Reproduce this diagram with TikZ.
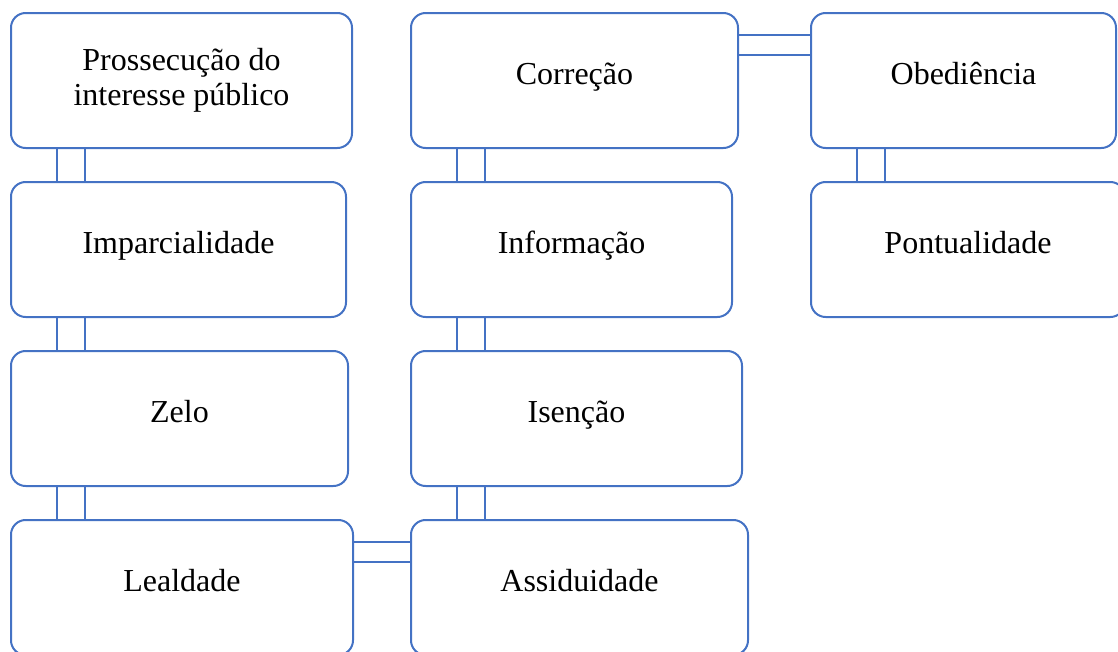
\documentclass[tikz,border=0pt]{standalone}
\usepackage{fontspec}
\setmainfont{Liberation Serif}
\usepackage{tikz}

\definecolor{officeblue}{HTML}{4472C4}

\begin{document}
\begin{tikzpicture}[x=0.75pt, y=-0.75pt,
    card/.style={draw=officeblue, line width=1.5pt, rounded corners=11pt,
        fill=white, minimum height=101.25pt, inner sep=2pt, align=center,
        text height=15.5pt, text depth=9.5pt,
        font=\fontsize{24}{26}\selectfont},
    link/.style={draw=officeblue, line width=1.5pt}]
    \path[use as bounding box] (0,0) rectangle (1118,651);
    \clip (0,0) rectangle (1118,651);

    % first column
    \node[card, text height=, text depth=, minimum width=255.75pt] (pross) at (181.5,80.5) {Prossecução do\\interesse público};
    \node[card, minimum width=251.25pt] (impar) at (178.5,249.5) {Imparcialidade};
    \node[card, minimum width=252.75pt] (zelo) at (179.5,418.5) {Zelo};
    \node[card, minimum width=256.5pt] (leal) at (182,587.5) {Lealdade};

    % second column
    \node[card, minimum width=245.25pt] (corr) at (574.5,80.5) {Correção};
    \node[card, minimum width=240.75pt] (info) at (571.5,249.5) {Informação};
    \node[card, minimum width=248.25pt] (isen) at (576.5,418.5) {Isenção};
    \node[card, minimum width=252.75pt] (assid) at (579.5,587.5) {Assiduidade};

    % third column
    \node[card, minimum width=228.75pt] (obed) at (963.5,80.5) {Obediência};
    \node[card, minimum width=235.5pt] (pont) at (968,249.5) {Pontualidade};

    % double links, vertical
    \foreach \a/\b in {pross/impar, impar/zelo, zelo/leal, corr/info, info/isen, isen/assid, obed/pont}
        \foreach \dx in {35.25pt, 56.25pt}
            \draw[link] ([xshift=\dx]\a.south west) -- ([xshift=\dx]\b.north west);

    % double links, horizontal
    \foreach \a/\b in {corr/obed, leal/assid}
        \foreach \dy in {17.25pt, 32.25pt}
            \draw[link] ([yshift=-\dy]\a.north east) -- ([yshift=-\dy]\b.north west);
\end{tikzpicture}
\end{document}
